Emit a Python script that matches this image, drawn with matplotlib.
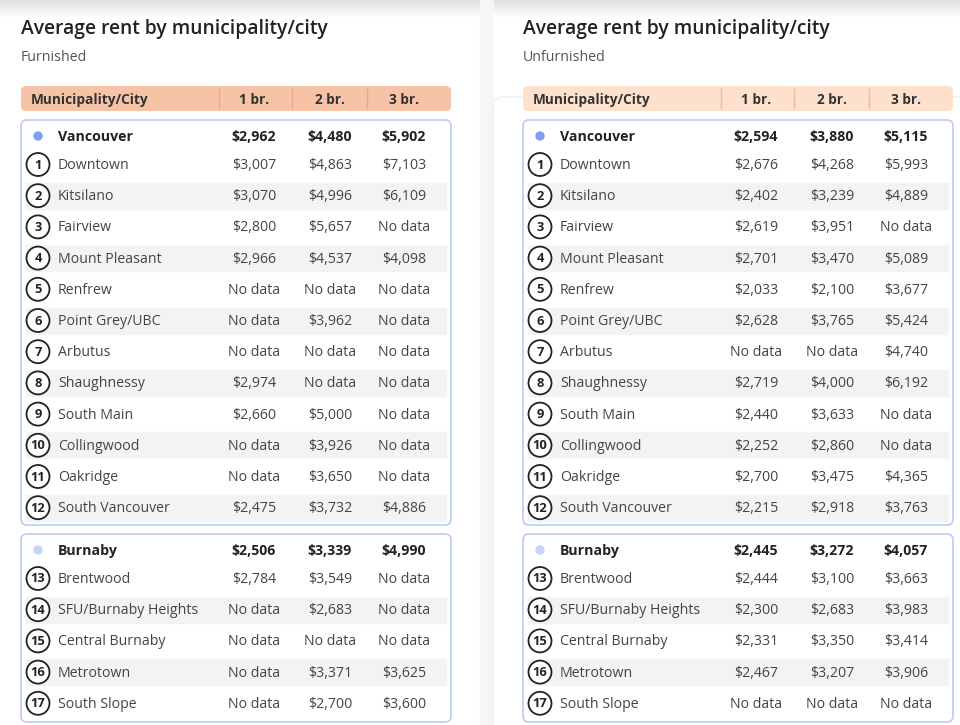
import matplotlib
matplotlib.use('Agg')
import numpy as np
import matplotlib.pyplot as plt
from matplotlib.patches import FancyBboxPatch, Rectangle, Circle

plt.rcParams['font.family'] = ['Open Sans', 'DejaVu Sans']

# data
columns = ['1 br.', '2 br.', '3 br.']
van_names = ['Downtown', 'Kitsilano', 'Fairview', 'Mount Pleasant', 'Renfrew', 'Point Grey/UBC',
             'Arbutus', 'Shaughnessy', 'South Main', 'Collingwood', 'Oakridge', 'South Vancouver']
bur_names = ['Brentwood', 'SFU/Burnaby Heights', 'Central Burnaby', 'Metrotown', 'South Slope']

# None = No data
furn_van_total = [2962, 4480, 5902]
furn_van = [[3007, 4863, 7103], [3070, 4996, 6109], [2800, 5657, None], [2966, 4537, 4098],
            [None, None, None], [None, 3962, None], [None, None, None], [2974, None, None],
            [2660, 5000, None], [None, 3926, None], [None, 3650, None], [2475, 3732, 4886]]
furn_bur_total = [2506, 3339, 4990]
furn_bur = [[2784, 3549, None], [None, 2683, None], [None, None, None], [None, 3371, 3625],
            [None, 2700, 3600]]

unf_van_total = [2594, 3880, 5115]
unf_van = [[2676, 4268, 5993], [2402, 3239, 4889], [2619, 3951, None], [2701, 3470, 5089],
           [2033, 2100, 3677], [2628, 3765, 5424], [None, None, 4740], [2719, 4000, 6192],
           [2440, 3633, None], [2252, 2860, None], [2700, 3475, 4365], [2215, 2918, 3763]]
unf_bur_total = [2445, 3272, 4057]
unf_bur = [[2444, 3100, 3663], [2300, 2683, 3983], [2331, 3350, 3414], [2467, 3207, 3906],
           [None, None, None]]


def fmt(v):
    return 'No data' if v is None else '${:,}'.format(v)


fig = plt.figure(figsize=(9.6, 7.25), dpi=100)
ax = fig.add_axes([0, 0, 1, 1])
ax.set_xlim(0, 960)
ax.set_ylim(725, 0)
ax.axis('off')

# top shadow + panel separator
grad = np.linspace(0.88, 1.0, 20).reshape(-1, 1)
ax.imshow(grad, cmap='gray', vmin=0, vmax=1, extent=(0, 960, 18, 0), aspect='auto', zorder=0)
ax.add_patch(Rectangle((480, 0), 13, 725, color='#f6f6f6', zorder=0.5))
ax.add_patch(FancyBboxPatch((493, 97), 500, 700, boxstyle='round,pad=0,rounding_size=10',
                            fc='white', ec='#f0f0f0', lw=1, zorder=0.6))

TXT = '#444444'
DARK = '#222222'
FS = 10.2
DY = 1  # small nudge so text sits like the reference


def panel(x0, subtitle, head_fc, head_div, van_total, van, bur_total, bur):
    col_x = [x0 + 233, x0 + 309, x0 + 383]
    ax.text(x0, 29, 'Average rent by municipality/city', fontsize=13.9, fontweight='semibold',
            color=DARK, va='center', ha='left')
    ax.text(x0, 56 + DY, subtitle, fontsize=10.2, color='#555555', va='center', ha='left')

    # header
    ax.add_patch(FancyBboxPatch((x0, 86), 430, 25, boxstyle='round,pad=0,rounding_size=5',
                                fc=head_fc, ec='none', zorder=1))
    for dx in [198, 271, 346]:
        ax.plot([x0 + dx, x0 + dx], [89, 108], color=head_div, lw=1, zorder=2)
    ax.text(x0 + 10, 98.5 + DY, 'Municipality/City', fontsize=9.8, fontweight='bold',
            color='#333333', va='center', ha='left', zorder=3)
    for cx, c in zip(col_x, columns):
        ax.text(cx, 98.5 + DY, c, fontsize=9.8, fontweight='bold', color='#333333',
                va='center', ha='center', zorder=3)

    def group(y_top, y_bot, gname, dot_c, total, rows, names, start, y_first, step):
        ax.add_patch(FancyBboxPatch((x0, y_top), 430, y_bot - y_top,
                                    boxstyle='round,pad=0,rounding_size=6',
                                    fc='white', ec='#b9cbf5', lw=1.2, zorder=1))
        yg = y_top + 16
        ax.add_patch(Circle((x0 + 17, yg), 4, color=dot_c, zorder=3))
        ax.text(x0 + 37, yg + DY, gname, fontsize=FS, fontweight='bold', color=DARK,
                va='center', ha='left', zorder=3)
        for cx, v in zip(col_x, total):
            ax.text(cx, yg + DY, fmt(v), fontsize=FS, fontweight='bold', color=DARK,
                    va='center', ha='center', zorder=3)
        for i, (nm, vals) in enumerate(zip(names, rows)):
            y = y_first + step * i
            num = start + i
            if num % 2 == 0:
                ax.add_patch(Rectangle((x0 + 5, y - 13), 420, 26, color='#f3f3f3', zorder=1.5))
            ax.add_patch(Circle((x0 + 17, y), 11.5, fc='white', ec='#222222', lw=1.3, zorder=3))
            ax.text(x0 + 17, y + 0.5, str(num), fontsize=9.3, fontweight='bold',
                    color=DARK, va='center', ha='center', zorder=4)
            ax.text(x0 + 37, y + DY, nm, fontsize=FS, color=TXT, va='center', ha='left',
                    zorder=3)
            for cx, v in zip(col_x, vals):
                ax.text(cx, y + DY, fmt(v), fontsize=FS, color=TXT, va='center', ha='center',
                        zorder=3)

    group(120, 525, 'Vancouver', '#7fa1ef', van_total, van, van_names, 1, 164.5, 31.2)
    group(534, 722, 'Burnaby', '#c5d4f8', bur_total, bur, bur_names, 13, 578.5, 31.2)


panel(21, 'Furnished', '#f6c3a7', '#e9a888', furn_van_total, furn_van, furn_bur_total, furn_bur)
panel(523, 'Unfurnished', '#fde1cd', '#f2bb9c', unf_van_total, unf_van, unf_bur_total, unf_bur)

fig.savefig('out.png', dpi=100)
